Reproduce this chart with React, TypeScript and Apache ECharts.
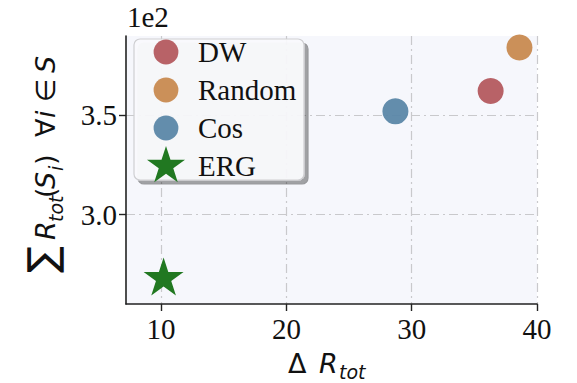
import React, { useEffect, useRef } from "react";
import * as echarts from "echarts";

// Methods and their (ΔR_tot, ΣR_tot) coordinates
const methods = ["DW", "Random", "Cos", "ERG"];
const deltaR = [36.3, 38.6, 28.7, 10.2];
const sumR = [362.0, 383.8, 351.8, 268.0];
const colors = ["#b45a5f", "#c88a50", "#5b87a8", "#217821"];

const xTicks = [10, 20, 30, 40];
const yTicks = [300, 350];

const STAR =
  "path://M0 0M100 100M50 0L61.23 34.55L97.55 34.55L68.17 55.9L79.39 90.45L50 69.1L20.61 90.45L31.83 55.9L2.45 34.55L38.77 34.55Z";
const CIRCLE = "path://M0 0M100 100M81 50A31 31 0 1 1 19 50A31 31 0 1 1 81 50Z";

const SERIF = "'Liberation Serif', 'Times New Roman', serif";
const MATH = "'DejaVu Sans', sans-serif";

// top of a top-aligned text whose alphabetic baseline sits at `baseline`
const top = (baseline: number, size: number) => baseline - 0.87 * size;

// rotated y-axis title pieces: [text, offset along text, baseline shift, size, italic]
const yTitleParts: [string, number, number, number, boolean][] = [
  ["∑", 0, 0, 40, false],
  ["R", 33, 0, 27, true],
  ["tot", 51, 8, 19, true],
  ["(", 75, 0, 27, false],
  ["S", 84, 0, 27, true],
  ["i", 102, 8, 19, true],
  [")", 108, 0, 27, false],
  ["∀", 136, 0, 27, false],
  ["i", 155, 0, 27, true],
  ["∈", 171, 0, 27, false],
  ["S", 200, 0, 27, true],
];

export default function App() {
  const ref = useRef<HTMLDivElement>(null);

  useEffect(() => {
    if (!ref.current) return;
    const chart = echarts.init(ref.current, null, { renderer: "svg" });

    const series = methods.map((name, i) => ({
      name,
      type: "scatter",
      data: [[deltaR[i], sumR[i]]],
      symbol: name === "ERG" ? STAR : "circle",
      symbolSize: name === "ERG" ? 42 : 26,
      itemStyle: { color: colors[i], opacity: name === "ERG" ? 1 : 0.95 },
      z: 3,
    }));

    const gridLine = {
      show: true,
      lineStyle: { color: "#c9c9cc", width: 1.2, type: [9, 4, 2, 4] },
    };

    chart.setOption({
      animation: false,
      backgroundColor: "#ffffff",
      grid: {
        left: 126,
        right: 40,
        top: 36,
        bottom: 79,
        show: true,
        backgroundColor: "#f6f7fc",
        borderWidth: 0,
      },
      xAxis: {
        type: "value",
        min: 7.2,
        max: 40,
        axisLine: { show: true, onZero: false, lineStyle: { color: "#222", width: 1.6 } },
        axisTick: { show: true, length: 7, customValues: xTicks, lineStyle: { color: "#222", width: 1.4 } },
        axisLabel: {
          customValues: xTicks,
          color: "#111",
          fontFamily: SERIF,
          fontSize: 29,
          margin: 10,
          formatter: (v: number) => String(Math.round(v)),
        },
        splitLine: gridLine,
      },
      yAxis: {
        type: "value",
        min: 255.2,
        max: 389.6,
        name: "1e2",
        nameLocation: "end",
        nameGap: 5,
        nameTextStyle: { fontFamily: SERIF, fontSize: 29, color: "#111", align: "left", padding: [0, 0, 0, 1] },
        axisLine: { show: true, onZero: false, lineStyle: { color: "#222", width: 1.6 } },
        axisTick: { show: true, length: 7, customValues: yTicks, lineStyle: { color: "#222", width: 1.4 } },
        axisLabel: {
          customValues: yTicks,
          color: "#111",
          fontFamily: SERIF,
          fontSize: 29,
          margin: 9,
          formatter: (v: number) => (v / 100).toFixed(1),
        },
        splitLine: gridLine,
      },
      legend: {
        left: 146,
        top: 32,
        orient: "vertical",
        padding: 0,
        itemWidth: 40,
        itemHeight: 40,
        itemGap: -2,
        z: 6,
        textStyle: { fontFamily: SERIF, fontSize: 29, color: "#111", padding: [0, 0, 0, 7] },
        data: methods.map((name) => ({ name, icon: name === "ERG" ? STAR : CIRCLE })),
      },
      graphic: [
        {
          type: "rect",
          z: 5,
          shape: { x: 134, y: 39, width: 170, height: 141, r: 6 },
          style: {
            fill: "rgba(250,250,253,0.92)",
            stroke: "#cfcfd2",
            lineWidth: 1.2,
            shadowColor: "rgba(0,0,0,0.38)",
            shadowOffsetX: 4,
            shadowOffsetY: 4,
            shadowBlur: 1,
          },
        },
        {
          type: "group",
          x: 288,
          y: 373,
          children: [
            { type: "text", x: 0, y: top(0, 27), style: { text: "Δ", font: `27px ${MATH}`, fill: "#111" } },
            { type: "text", x: 31, y: top(0, 27), style: { text: "R", font: `italic 27px ${MATH}`, fill: "#111" } },
            { type: "text", x: 51, y: top(6, 19), style: { text: "tot", font: `italic 19px ${MATH}`, fill: "#111" } },
          ],
        },
        {
          type: "group",
          x: 55,
          y: 273,
          rotation: Math.PI / 2,
          children: yTitleParts.map(([t, dx, dy, size, it]) => ({
            type: "text",
            x: dx,
            y: t === "∑" ? -33 : top(dy, size),
            style: {
              text: t,
              font: `${it ? "italic " : ""}${size}px ${MATH}`,
              fill: "#111",
            },
          })),
        },
      ],
      series,
    });

    return () => chart.dispose();
  }, []);

  return (
    <div
      ref={ref}
      style={{ position: "fixed", left: 0, top: 0, width: 577, height: 383 }}
    />
  );
}
